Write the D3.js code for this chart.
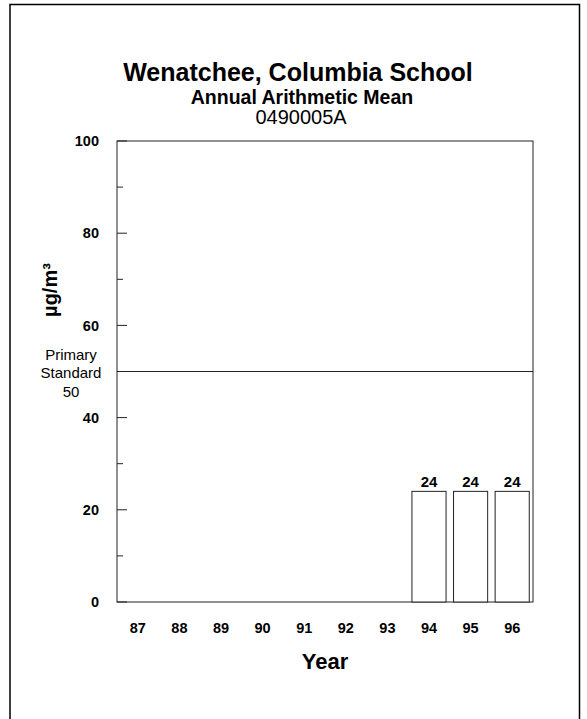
<!DOCTYPE html>
<html><head><meta charset="utf-8">
<script src="https://cdn.jsdelivr.net/npm/d3@7"></script>
<style>body{margin:0;background:#fff}svg{display:block}text{font-family:"Liberation Sans",Arial,sans-serif}</style>
</head><body>
<script>
const years = ["87","88","89","90","91","92","93","94","95","96"];
const values = [null,null,null,null,null,null,null,24,24,24];
const yTicks = [0,20,40,60,80,100];
const minorTicks = [10,30,50,70,90];
const standard = 50;
const titles = ["Wenatchee, Columbia School","Annual Arithmetic Mean","0490005A"];

const W=587,H=719;
const svg=d3.select("body").append("svg").attr("width",W).attr("height",H);
svg.append("rect").attr("x",10).attr("y",4.5).attr("width",569.5).attr("height",730).attr("fill","none").attr("stroke","#000").attr("stroke-width",1.5);

const m={l:117,r:533,t:141,b:602};
const x=d3.scaleBand().domain(years).range([m.l,m.r]).paddingInner(0.18).paddingOuter(0.09);
const y=d3.scaleLinear().domain([0,100]).range([m.b,m.t]);

// frame
svg.append("rect").attr("x",m.l).attr("y",m.t).attr("width",m.r-m.l).attr("height",m.b-m.t).attr("fill","none").attr("stroke","#222").attr("stroke-width",1);

// ticks
const g=svg.append("g");
g.selectAll("line.maj").data(yTicks).join("line").attr("x1",m.l).attr("x2",m.l+10).attr("y1",d=>y(d)).attr("y2",d=>y(d)).attr("stroke","#222");
g.selectAll("line.min").data(minorTicks).join("line").attr("x1",m.l).attr("x2",m.l+6).attr("y1",d=>y(d)).attr("y2",d=>y(d)).attr("stroke","#222");
g.selectAll("text.yt").data(yTicks).join("text").attr("x",99).attr("y",d=>y(d)).attr("dy","0.36em").attr("text-anchor","end").attr("font-size",14.5).attr("font-weight","bold").text(d=>d);

// standard line
svg.append("line").attr("x1",m.l).attr("x2",m.r).attr("y1",y(standard)).attr("y2",y(standard)).attr("stroke","#222");
const st=svg.append("text").attr("text-anchor","middle").attr("font-size",15);
[["Primary",-11.5],["Standard",6.5],[String(standard),25]].forEach(([t,dy])=>{
  st.append("tspan").attr("x",71).attr("y",y(standard)+dy).text(t);
});

// bars
const data=years.map((yr,i)=>({yr,v:values[i]})).filter(d=>d.v!=null);
svg.selectAll("rect.bar").data(data).join("rect").attr("x",d=>x(d.yr)).attr("width",x.bandwidth()).attr("y",d=>y(d.v)).attr("height",d=>y(0)-y(d.v)).attr("fill","#fff").attr("stroke","#222");
svg.selectAll("text.bl").data(data).join("text").attr("x",d=>x(d.yr)+x.bandwidth()/2).attr("y",d=>y(d.v)-4.5).attr("text-anchor","middle").attr("font-size",15).attr("font-weight","bold").text(d=>d.v);

// x labels
svg.selectAll("text.xl").data(years).join("text").attr("x",d=>x(d)+x.bandwidth()/2).attr("y",633).attr("text-anchor","middle").attr("font-size",14.5).attr("font-weight","bold").text(d=>d);
svg.append("text").attr("x",(m.l+m.r)/2).attr("y",669).attr("text-anchor","middle").attr("font-size",22).attr("font-weight","bold").text("Year");

// y label
svg.append("text").attr("transform",`translate(57,290) rotate(-90)`).attr("text-anchor","middle").attr("font-size",20).attr("font-weight","bold").text("µg/m³");

// titles
svg.append("text").attr("x",298).attr("y",81).attr("text-anchor","middle").attr("font-size",25).attr("font-weight","bold").text(titles[0]);
svg.append("text").attr("x",302).attr("y",104).attr("text-anchor","middle").attr("font-size",19.5).attr("font-weight","bold").text(titles[1]);
svg.append("text").attr("x",301).attr("y",124).attr("text-anchor","middle").attr("font-size",20).text(titles[2]);
</script>
</body></html>
